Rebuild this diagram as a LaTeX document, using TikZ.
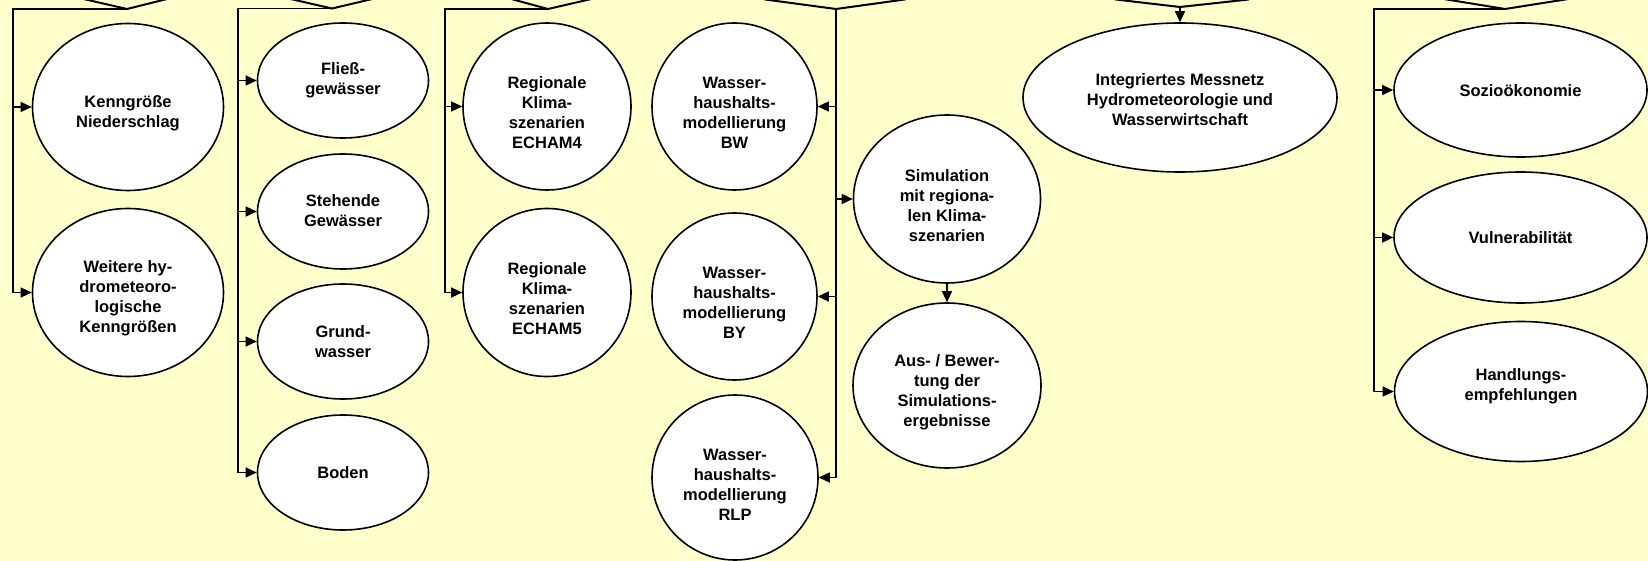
\documentclass[tikz,border=0pt]{standalone}
\usepackage{fontspec}
\setmainfont{Liberation Sans}
\usetikzlibrary{arrows.meta,shapes.geometric}
\definecolor{bg}{RGB}{255,255,204}
\begin{document}
\begin{tikzpicture}[x=1pt,y=-1pt,
  shp/.style={ellipse,draw=black,line width=1.6pt,fill=white,inner sep=0pt},
  lbl/.style={font=\bfseries\fontsize{16.5}{20}\selectfont,align=center,inner sep=0pt},
  conn/.style={line width=1.3pt,draw=black},
  arr/.style={-{Triangle[length=11pt,width=10pt]}},
  topv/.style={line width=2pt,shorten <=-5pt,shorten >=-5pt}
]
\path[use as bounding box,fill=bg] (0,0) rectangle (1648,561);
\clip (0,0) rectangle (1648,561);

% top shape bottoms (cut off)
\draw[topv] (88,0) -- (127,9) -- (163,0);
\draw[topv] (295,0) -- (332,8.5) -- (368,0);
\draw[topv] (515,0) -- (548,9) -- (587,0);
\draw[topv] (769,0) -- (836,9) -- (901,0);
\draw[topv] (1120,0) -- (1180,7) -- (1244,0);
\draw[topv] (1450,0) -- (1505,9) -- (1562,0);

\coordinate (a1) at (127,9);  \coordinate (l1) at (13,9);
\coordinate (a2) at (332,8.5); \coordinate (l2) at (238,8.5);
\coordinate (a3) at (548,9);  \coordinate (l3) at (445,9);
\coordinate (a4) at (836,9);
\coordinate (a5) at (1180,7);
\coordinate (a6) at (1505,9); \coordinate (l6) at (1374,9);

% group 1
\node[shp,minimum width=191pt,minimum height=167pt] (kenn) at (128,107) {};
\node[lbl] (kennT) at ([yshift=-6.5pt]kenn.center) {Kenngröße\\Niederschlag};
\node[shp,minimum width=191pt,minimum height=168pt] (weit) at (128,292.5) {};
\node[lbl] (weitT) at ([yshift=-6pt]weit.center) {Weitere hy-\\drometeoro-\\logische\\Kenngrößen};

% group 2
\node[shp,minimum width=171pt,minimum height=115pt] (flies) at (343,80.5) {};
\node[lbl] (fliesT) at (flies.center) {Fließ-\\gewässer};
\node[shp,minimum width=171pt,minimum height=115pt] (steh) at (343,211.5) {};
\node[lbl] (stehT) at ([yshift=1pt]steh.center) {Stehende\\Gewässer};
\node[shp,minimum width=171pt,minimum height=115pt] (grund) at (343,341.5) {};
\node[lbl] (grundT) at (grund.center) {Grund-\\wasser};
\node[shp,minimum width=171pt,minimum height=115pt] (boden) at (343,472.5) {};
\node[lbl] (bodenT) at (boden.center) {Boden};

% group 3
\node[shp,minimum width=168pt,minimum height=167pt] (ech4) at (547,106.5) {};
\node[lbl] (ech4T) at ([yshift=-6.5pt]ech4.center) {Regionale\\Klima-\\szenarien\\ECHAM4};
\node[shp,minimum width=168pt,minimum height=168pt] (ech5) at (547,292.5) {};
\node[lbl] (ech5T) at ([yshift=-6.5pt]ech5.center) {Regionale\\Klima-\\szenarien\\ECHAM5};

% group 4
\node[shp,minimum width=165pt,minimum height=167pt] (bw) at (734.5,106.5) {};
\node[lbl] (bwT) at ([yshift=-6.5pt]bw.center) {Wasser-\\haushalts-\\modellierung\\BW};
\node[shp,minimum width=165pt,minimum height=167pt] (by) at (734.5,296.5) {};
\node[lbl] (byT) at ([yshift=-6.5pt]by.center) {Wasser-\\haushalts-\\modellierung\\BY};
\node[shp,minimum width=166pt,minimum height=165pt] (rlp) at (735,477.5) {};
\node[lbl] (rlpT) at ([yshift=-7.5pt]rlp.center) {Wasser-\\haushalts-\\modellierung\\RLP};
\node[shp,minimum width=187pt,minimum height=168pt] (sim) at (947,199) {};
\node[lbl] (simT) at ([yshift=-7pt]sim.center) {Simulation\\mit regiona-\\len Klima-\\szenarien};
\node[shp,minimum width=188pt,minimum height=165pt] (aus) at (947,385.5) {};
\node[lbl] (ausT) at ([yshift=-6.5pt]aus.center) {Aus- / Bewer-\\tung der\\Simulations-\\ergebnisse};

% group 5
\node[shp,minimum width=314pt,minimum height=149pt] (integ) at (1180,97.5) {};
\node[lbl] (integT) at ([yshift=-2.5pt]integ.center) {Integriertes Messnetz\\Hydrometeorologie und\\Wasserwirtschaft};

% group 6
\node[shp,minimum width=253pt,minimum height=134pt] (sozio) at (1520.5,90) {};
\node[lbl] (sozioT) at ([yshift=-1pt]sozio.center) {Sozioökonomie};
\node[shp,minimum width=253pt,minimum height=131pt] (vuln) at (1520.5,237.5) {};
\node[lbl] (vulnT) at (vuln.center) {Vulnerabilität};
\node[shp,minimum width=253pt,minimum height=140pt] (handl) at (1521,391.5) {};
\node[lbl] (handlT) at ([yshift=5pt]handl.center) {Handlungs-\\empfehlungen};

% connectors
\draw[conn,arr] (a1) -- (l1) |- (weit.west);
\draw[conn,arr] (l1 |- kenn.west) -- (kenn.west);

\draw[conn,arr] (a2) -- (l2) |- (boden.west);
\draw[conn,arr] (l2 |- flies.west) -- (flies.west);
\draw[conn,arr] (l2 |- steh.west) -- (steh.west);
\draw[conn,arr] (l2 |- grund.west) -- (grund.west);

\draw[conn,arr] (a3) -- (l3) |- (ech5.west);
\draw[conn,arr] (l3 |- ech4.west) -- (ech4.west);

\draw[conn,arr] (a4) |- (rlp.east);
\draw[conn,arr] (a4 |- bw.east) -- (bw.east);
\draw[conn,arr] (a4 |- by.east) -- (by.east);
\draw[conn,arr] (a4 |- sim.west) -- (sim.west);
\draw[conn,arr] (sim.south) -- (aus.north);

\draw[conn,arr] (a5) -- (integ.north);

\draw[conn,arr] (a6) -- (l6) |- (handl.west);
\draw[conn,arr] (l6 |- sozio.west) -- (sozio.west);
\draw[conn,arr] (l6 |- vuln.west) -- (vuln.west);
\end{tikzpicture}
\end{document}
